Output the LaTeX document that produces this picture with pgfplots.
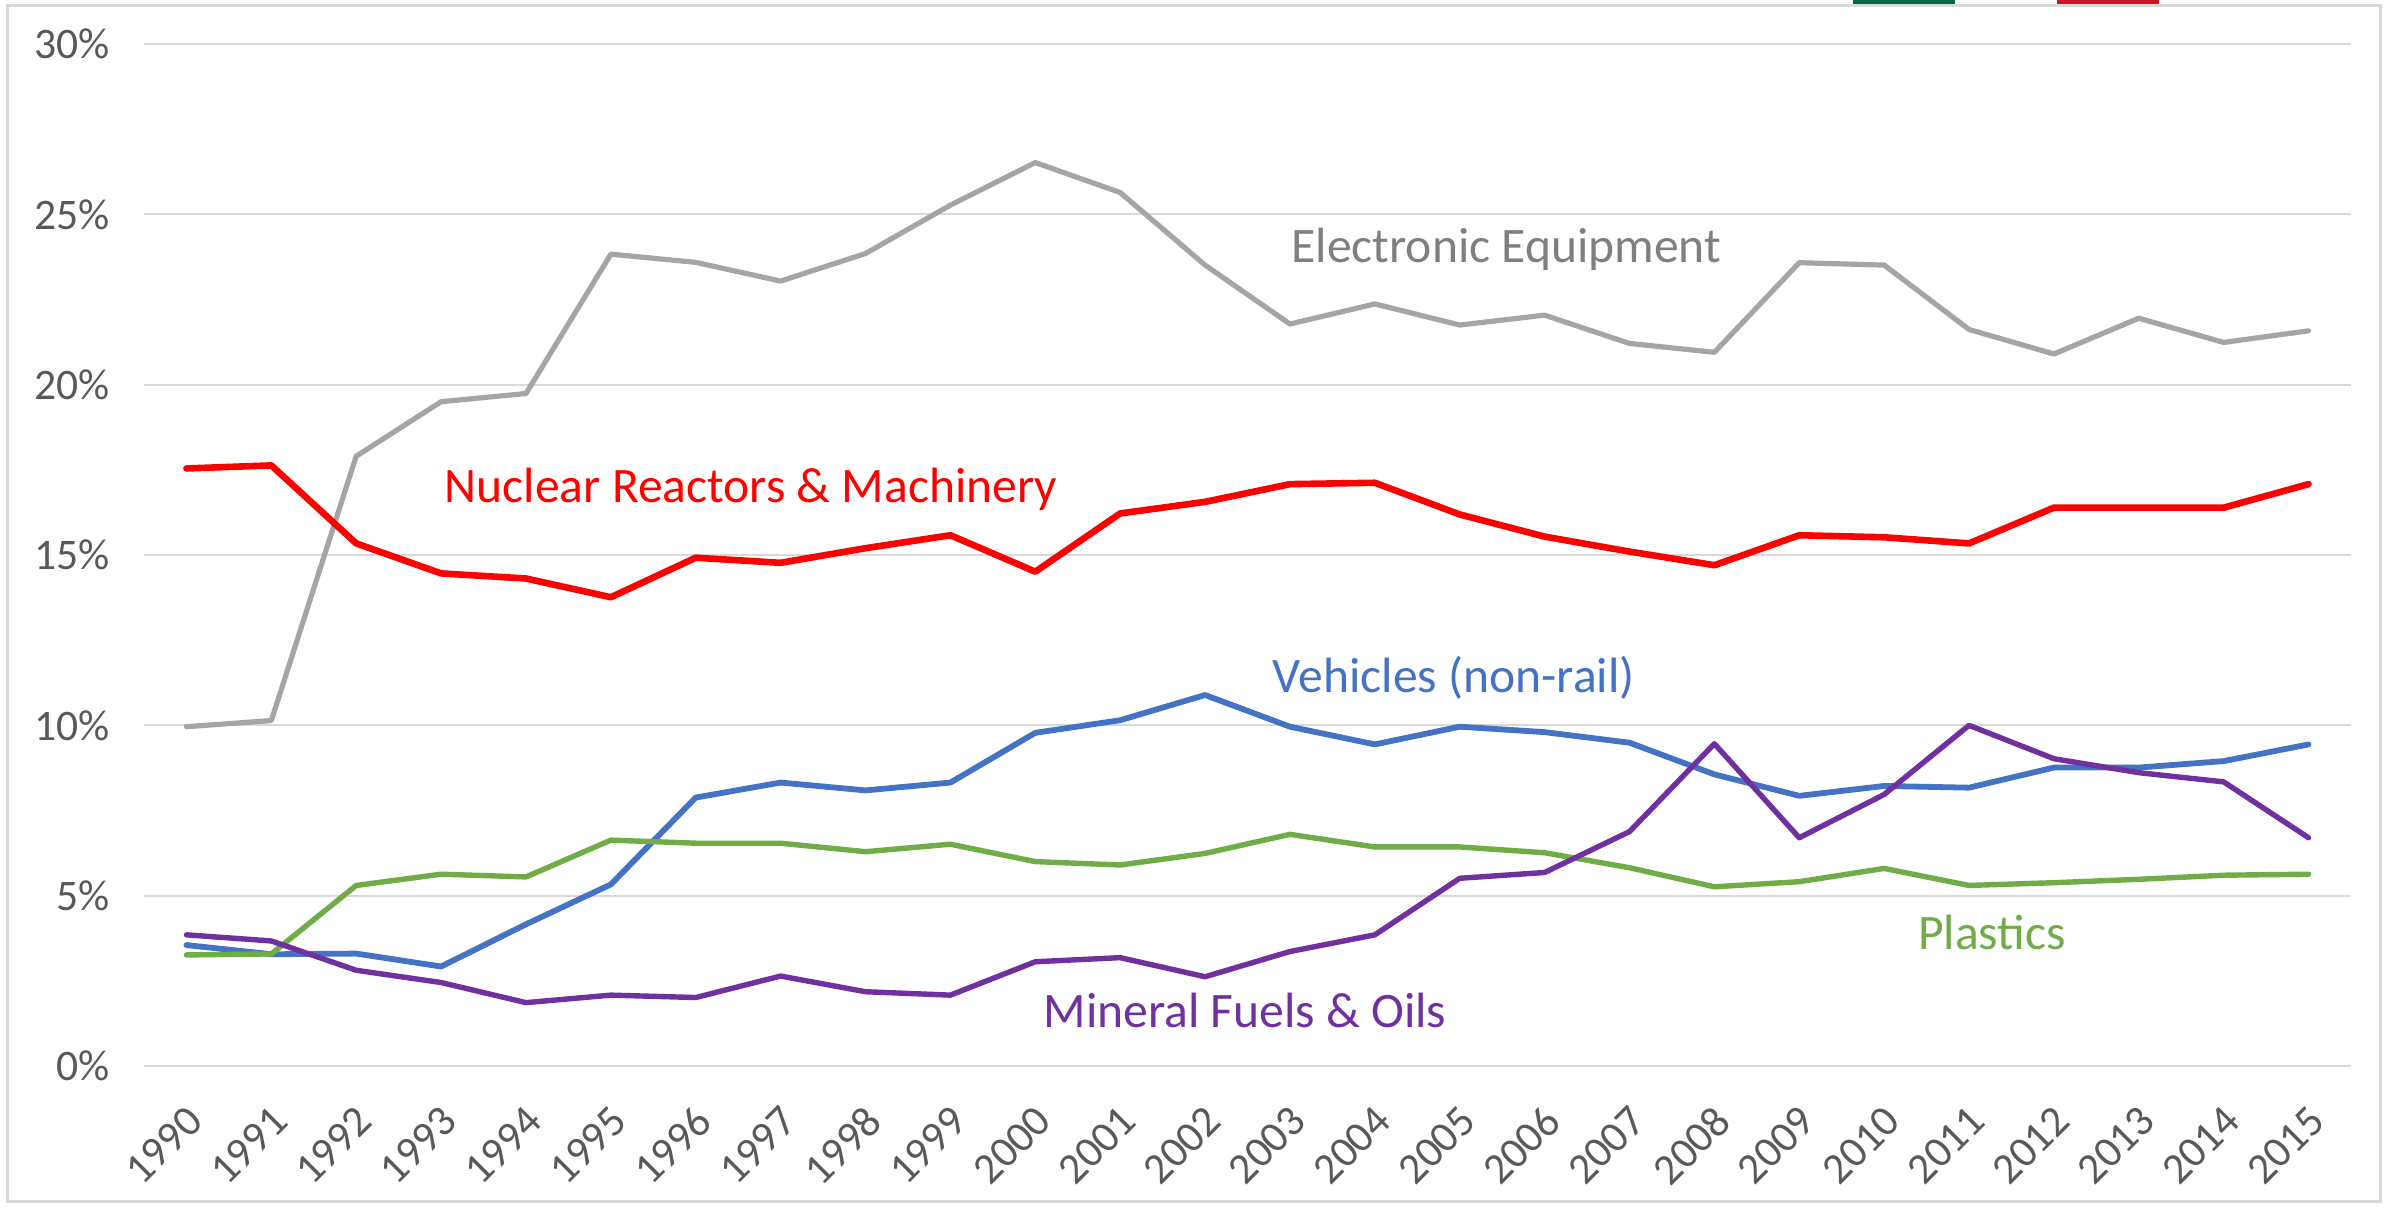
\documentclass[border=0pt]{standalone}
\usepackage{pgfplots}
\pgfplotsset{compat=1.18}
\usepackage{fontspec}
\setmainfont{Carlito}
\definecolor{cgray}{HTML}{A5A5A5}
\definecolor{cred}{HTML}{FF0000}
\definecolor{cblue}{HTML}{4472C4}
\definecolor{cgreen}{HTML}{70AD47}
\definecolor{cpurple}{HTML}{7030A0}
\definecolor{ctick}{HTML}{595959}
\definecolor{cgrid}{HTML}{D9D9D9}
\definecolor{clabgray}{HTML}{7F7F7F}
\definecolor{flaggreen}{HTML}{006847}
\definecolor{flagred}{HTML}{CE1126}
\begin{document}
\begin{tikzpicture}
\fill[flaggreen] (427.25pt,265.6pt) rectangle (452.75pt,266.5pt);
\fill[flagred] (478.25pt,265.6pt) rectangle (503.75pt,266.5pt);
\draw[cgrid, line width=0.75pt] (-34.25pt,-34pt) rectangle (559pt,265.2pt);
\begin{axis}[
  scale only axis,
  width=551.75pt, height=255.5pt,
  at={(0,0)}, anchor=south west,
  xmin=1989.5, xmax=2015.5,
  ymin=0, ymax=30,
  axis line style={draw=none},
  major tick length=0pt,
  xtick={1990,...,2015},
  ytick={0,5,...,30},
  ymajorgrids,
  grid style={cgrid, line width=0.5pt},
  /pgf/number format/1000 sep={},
  /pgf/number format/assume math mode=true,
  yticklabel={\pgfmathprintnumber{\tick}\%},
  yticklabel style={font=\fontsize{10.9}{13}\selectfont, text=ctick, xshift=-5pt},
  xticklabel style={font=\fontsize{10.9}{13}\selectfont, text=ctick, rotate=45, anchor=east, xshift=-3.5pt, yshift=-10pt},
  every axis plot/.append style={line join=round, line cap=round, mark=none},
  clip=false,
]
\addplot[cgray, line width=1.3pt] coordinates {
(1990,9.96)(1991,10.14)(1992,17.9)(1993,19.5)(1994,19.74)(1995,23.83)(1996,23.59)(1997,23.04)(1998,23.85)(1999,25.27)(2000,26.52)(2001,25.64)(2002,23.51)(2003,21.78)(2004,22.37)(2005,21.75)(2006,22.04)(2007,21.21)(2008,20.95)(2009,23.58)(2010,23.51)(2011,21.62)(2012,20.90)(2013,21.95)(2014,21.24)(2015,21.58)};
\addplot[cred, line width=1.65pt] coordinates {
(1990,17.54)(1991,17.63)(1992,15.34)(1993,14.46)(1994,14.31)(1995,13.76)(1996,14.92)(1997,14.77)(1998,15.2)(1999,15.58)(2000,14.51)(2001,16.22)(2002,16.56)(2003,17.08)(2004,17.12)(2005,16.19)(2006,15.54)(2007,15.10)(2008,14.70)(2009,15.58)(2010,15.52)(2011,15.34)(2012,16.39)(2013,16.39)(2014,16.39)(2015,17.08)};
\addplot[cblue, line width=1.45pt] coordinates {
(1990,3.55)(1991,3.28)(1992,3.30)(1993,2.92)(1994,4.16)(1995,5.33)(1996,7.88)(1997,8.32)(1998,8.09)(1999,8.32)(2000,9.78)(2001,10.15)(2002,10.89)(2003,9.96)(2004,9.44)(2005,9.96)(2006,9.80)(2007,9.49)(2008,8.56)(2009,7.93)(2010,8.22)(2011,8.17)(2012,8.76)(2013,8.76)(2014,8.95)(2015,9.44)};
\addplot[cgreen, line width=1.35pt] coordinates {
(1990,3.26)(1991,3.29)(1992,5.30)(1993,5.63)(1994,5.55)(1995,6.63)(1996,6.54)(1997,6.54)(1998,6.29)(1999,6.51)(2000,6.0)(2001,5.90)(2002,6.24)(2003,6.80)(2004,6.43)(2005,6.43)(2006,6.26)(2007,5.82)(2008,5.26)(2009,5.41)(2010,5.80)(2011,5.30)(2012,5.38)(2013,5.48)(2014,5.60)(2015,5.63)};
\addplot[cpurple, line width=1.35pt] coordinates {
(1990,3.85)(1991,3.67)(1992,2.81)(1993,2.45)(1994,1.86)(1995,2.08)(1996,2.01)(1997,2.64)(1998,2.18)(1999,2.08)(2000,3.06)(2001,3.18)(2002,2.62)(2003,3.36)(2004,3.85)(2005,5.51)(2006,5.68)(2007,6.88)(2008,9.46)(2009,6.70)(2010,7.97)(2011,10.0)(2012,9.02)(2013,8.61)(2014,8.34)(2015,6.70)};
\node[anchor=base, text=clabgray, font=\fontsize{12.4}{14}\selectfont] at (axis cs:2005.55,23.60) {Electronic Equipment};
\node[anchor=base, text=cred, font=\fontsize{12.4}{14}\selectfont] at (axis cs:1996.65,16.53) {Nuclear Reactors \& Machinery};
\node[anchor=base, text=cblue, font=\fontsize{12.4}{14}\selectfont] at (axis cs:2004.93,10.96) {Vehicles (non-rail)};
\node[anchor=base, text=cpurple, font=\fontsize{12.4}{14}\selectfont] at (axis cs:2002.47,1.12) {Mineral Fuels \& Oils};
\node[anchor=base, text=cgreen, font=\fontsize{12.4}{14}\selectfont] at (axis cs:2011.27,3.43) {Plastics};
\end{axis}
\pgfresetboundingbox
\useasboundingbox (-36pt,-35.5pt) rectangle (560.5pt,266.5pt);
\end{tikzpicture}
\end{document}
